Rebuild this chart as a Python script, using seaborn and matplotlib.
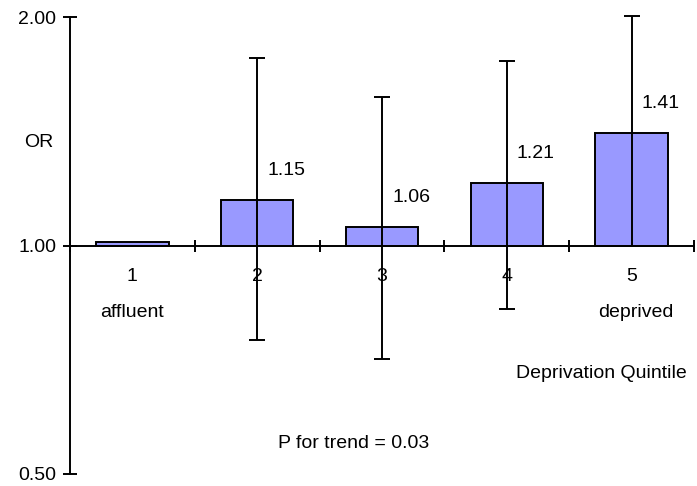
import matplotlib
matplotlib.use("Agg")
import matplotlib.pyplot as plt
import numpy as np
import seaborn as sns

sns.set_style("white")
plt.rcParams['font.family'] = ['Liberation Sans', 'DejaVu Sans']
plt.rcParams['font.size'] = 14
plt.rcParams['text.color'] = 'black'
plt.rcParams['xtick.color'] = 'black'
plt.rcParams['ytick.color'] = 'black'

# odds ratios per deprivation quintile
quintiles = ['1', '2', '3', '4', '5']
odds = [1.01, 1.15, 1.06, 1.21, 1.41]
bar_labels = ['', '1.15', '1.06', '1.21', '1.41']
ci_low = [np.nan, 0.75, 0.71, 0.825, 1.00]
ci_high = [np.nan, 1.77, 1.57, 1.755, 2.01]

y_ticks = [0.5, 1.0, 2.0]
y_ticklabels = ['0.50', '1.00', '2.00']

log_or = np.log2(odds)
log_lo = np.log2(ci_low)
log_hi = np.log2(ci_high)

lw = 1.4

fig = plt.figure(figsize=(6.97, 4.86), dpi=100)
ax = fig.add_axes([0.1004, 0.0247, 0.8953, 0.9393])

sns.barplot(x=quintiles, y=log_or, color='#9999FF', saturation=1,
            edgecolor='black', linewidth=lw, width=0.58, ax=ax)

idx = [i for i in range(len(odds)) if not np.isnan(log_lo[i])]
ax.errorbar(idx, log_or[idx],
            yerr=[log_or[idx] - log_lo[idx], log_hi[idx] - log_or[idx]],
            fmt='none', ecolor='black', elinewidth=lw, capsize=5.8,
            capthick=lw, clip_on=False, zorder=5)

for i, lab in enumerate(bar_labels):
    if lab:
        ax.annotate(lab, (i, log_or[i]), xytext=(21, 21),
                    textcoords='offset points', ha='center', va='center')

ax.set_xlim(-0.5, 4.5)
ax.set_ylim(-1, 1)
ax.set_yticks(np.log2(y_ticks))
ax.set_yticklabels(y_ticklabels)
ax.set_xticks(range(len(quintiles)))
ax.set_xticks(np.arange(-0.5, 5, 1), minor=True)
ax.set_xlabel('')
ax.set_ylabel('')

ax.tick_params(axis='y', direction='inout', length=10, width=lw, pad=5,
               left=True)
ax.tick_params(axis='x', which='major', length=0, pad=16)
ax.tick_params(axis='x', which='minor', direction='inout', length=9,
               width=lw, bottom=True)

for s in ['top', 'right']:
    ax.spines[s].set_visible(False)
ax.spines['bottom'].set_position(('data', 0))
for s in ['left', 'bottom']:
    ax.spines[s].set_linewidth(lw)
    ax.spines[s].set_color('black')

ax.text(0, -0.294, 'affluent', ha='center', va='center')
ax.text(4.03, -0.294, 'deprived', ha='center', va='center')
ax.text(3.76, -0.561, 'Deprivation Quintile', ha='center', va='center')
ax.text(1.77, -0.868, 'P for trend = 0.03', ha='center', va='center')
ax.text(-0.748, 0.452, 'OR', ha='center', va='center')

fig.savefig('out.png', dpi=100)
